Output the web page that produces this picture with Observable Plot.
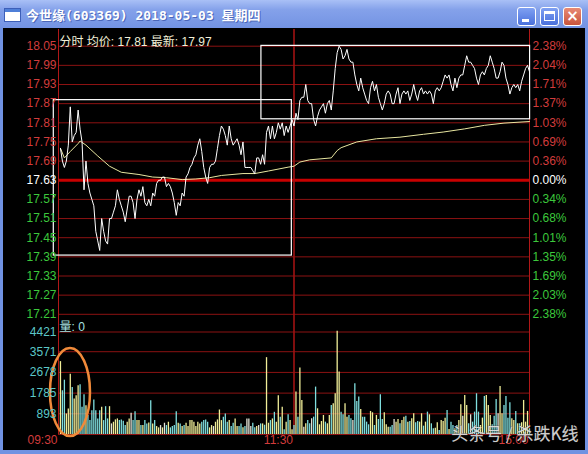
<!DOCTYPE html>
<html><head><meta charset="utf-8">
<script src="https://cdn.jsdelivr.net/npm/d3@7"></script>
<script src="https://cdn.jsdelivr.net/npm/@observablehq/plot@0.6"></script>
<style>
html,body{margin:0;padding:0;background:#6f8ee0;}
#win{position:relative;width:588px;height:454px;overflow:hidden;background:#7092e2;}
#title{position:absolute;left:0;top:0;width:588px;height:28px;background:linear-gradient(to bottom,#a9c0f6 0%,#84a1ea 35%,#7393e3 100%);}
#icon{position:absolute;left:5px;top:9px;width:15px;height:9px;background:#fff;border-top:3px solid #4f7fd8;box-shadow:0 0 0 1px #3d5fb8;}
#ttext{position:absolute;left:26px;top:5px;font:bold 13px "DejaVu Sans Mono","Noto Sans CJK SC",monospace;color:#fff;text-shadow:1px 1px 0 #4a66b8;white-space:pre;}
.btn{position:absolute;top:7px;width:19px;height:19px;box-sizing:border-box;border:1px solid #fff;border-radius:3px;background:linear-gradient(#7fa0f2,#4a70dc);color:#fff;}
#bmin{left:517px}#bmax{left:540px}#bcls{left:563px;background:linear-gradient(#e88a74,#c8543c);}
#bmin i{position:absolute;left:4px;top:11px;width:7px;height:3px;background:#fff;}
#bmax i{position:absolute;left:3px;top:3px;width:11px;height:10px;box-sizing:border-box;border:1px solid #fff;border-top-width:3px;}
#bcls i{position:absolute;left:0;top:-1px;width:17px;text-align:center;font:bold 15px "DejaVu Sans",sans-serif;}
#panel{position:absolute;left:3px;top:28px;width:582px;height:422px;background:#000;}
.chart{position:absolute;left:0;}
.chart svg{overflow:visible;display:block;}
</style></head>
<body>
<div id="win">
  <div id="title"><div id="icon"></div><div id="ttext">今世缘(603369) 2018-05-03 星期四</div>
    <div class="btn" id="bmin"><i></i></div><div class="btn" id="bmax"><i></i></div><div class="btn" id="bcls"><i>×</i></div>
  </div>
  <div id="panel"></div>
  <div class="chart" id="c1" style="top:29px"></div>
  <div class="chart" id="c2" style="top:322px"></div>
</div>
<script>
// ---- data ----
const prevClose = 17.63;
const priceTicks = [18.05,17.99,17.93,17.87,17.81,17.75,17.69,17.63,17.57,17.51,17.45,17.39,17.33,17.27,17.21];
const pctLabels = ["2.38%","2.04%","1.71%","1.37%","1.03%","0.69%","0.36%","0.00%","0.34%","0.68%","1.01%","1.35%","1.69%","2.03%","2.38%"];
const volTicks = [4421,3571,2678,1785,893];
const timeTicks = [0,120,240];
const timeLabels = ["09:30","11:30","15:00"];
const headerText = "分时 均价: 17.81 最新: 17.97";
const volLabel = "量: 0";
const watermark = "头条号 / 杀跌K线";

// minute prices, 9:31 .. 11:30, 13:01 .. 15:00
const priceAM = [17.73,17.69,17.67,17.69,17.74,17.86,17.75,17.77,17.78,17.85,
 17.79,17.75,17.60,17.69,17.62,17.59,17.57,17.55,17.47,17.44,
 17.41,17.51,17.47,17.44,17.43,17.51,17.51,17.53,17.55,17.60,
 17.57,17.55,17.53,17.50,17.54,17.58,17.58,17.56,17.51,17.57,
 17.60,17.58,17.61,17.56,17.55,17.57,17.55,17.59,17.58,17.62,
 17.63,17.63,17.64,17.64,17.61,17.62,17.61,17.59,17.56,17.52,
 17.56,17.55,17.59,17.58,17.64,17.65,17.67,17.68,17.70,17.71,
 17.74,17.76,17.72,17.67,17.64,17.62,17.67,17.68,17.68,17.69,
 17.73,17.77,17.80,17.79,17.77,17.74,17.80,17.76,17.74,17.75,
 17.76,17.74,17.71,17.75,17.67,17.67,17.67,17.67,17.66,17.65,
 17.70,17.70,17.68,17.71,17.68,17.78,17.80,17.76,17.80,17.76,
 17.78,17.81,17.79,17.81,17.77,17.80,17.78,17.80,17.82,17.80];
const pricePM = [17.84,17.82,17.88,17.89,17.89,17.93,17.88,17.87,17.87,17.82,
 17.80,17.83,17.85,17.86,17.87,17.84,17.87,17.88,17.85,17.91,
 17.98,18.03,18.05,18.04,18.01,18.02,18.04,18.01,18.00,18.00,
 17.96,17.93,17.91,17.95,17.92,17.90,17.88,17.87,17.92,17.94,
 17.91,17.93,17.89,17.87,17.85,17.87,17.90,17.91,17.90,17.87,
 17.87,17.90,17.92,17.87,17.90,17.91,17.90,17.91,17.88,17.90,
 17.93,17.90,17.88,17.91,17.92,17.90,17.91,17.90,17.91,17.90,
 17.87,17.91,17.92,17.91,17.92,17.94,17.96,17.95,17.96,17.93,
 17.91,17.95,17.92,17.95,17.96,17.96,17.99,18.02,18.00,18.00,
 17.99,17.98,17.95,17.93,17.96,17.97,17.96,17.98,17.99,18.02,
 18.00,17.98,17.95,17.95,17.97,18.00,17.99,17.95,17.93,17.90,
 17.92,17.93,17.92,17.93,17.91,17.94,17.96,17.98,17.99,17.97];
const price = priceAM.concat(pricePM);

// average-price line, read at these minutes
const avgT = [1,3,6,10,11,14,20,26,32,41,48,55,63,70,77,83,94,100,107,117,120,123,128,139,142,144,152,162,174,186,196,207,217,227,240];
const avgV = [17.73,17.70,17.72,17.745,17.753,17.74,17.706,17.674,17.655,17.648,17.64,17.638,17.632,17.634,17.638,17.645,17.651,17.651,17.659,17.671,17.674,17.687,17.694,17.70,17.723,17.732,17.75,17.76,17.765,17.774,17.781,17.791,17.802,17.809,17.814];

// minute volumes
const volAM = [3144,1886,2343,886,1100,2600,2029,1529,1672,2100,
 2143,1172,1715,1243,815,600,1029,1486,1029,672,
 1029,1172,600,1200,672,1200,457,529,629,672,
 600,629,572,386,529,672,915,600,986,600,
 600,386,386,600,457,500,1457,457,600,343,
 286,386,286,486,386,529,286,343,386,986,
 486,457,343,386,486,343,600,600,529,343,
 529,457,529,600,629,529,286,386,343,529,
 629,1057,600,743,886,529,600,343,486,672,
 343,343,457,286,343,672,672,343,486,286,
 343,386,457,457,400,3315,486,600,672,957,
 529,1672,743,1172,200,529,857,600,200,389];
const volPM = [1829,749,2866,1469,317,461,605,461,677,749,
 2045,1109,418,562,821,533,461,821,1253,1325,
 1757,4450,2693,965,850,1325,749,821,677,605,
 2189,1426,1613,1080,749,749,533,418,994,936,
 389,821,648,1714,648,936,418,317,317,389,
 648,533,648,461,605,749,792,533,562,677,
 893,504,562,533,893,360,533,965,850,461,
 245,274,504,173,605,562,706,1037,216,533,
 389,245,389,605,1282,792,1685,1253,461,850,
 533,965,1757,965,389,706,1642,1685,1253,821,
 418,792,1512,893,2074,893,1253,1642,706,1368,
 677,605,994,461,461,504,1469,533,994,245];
const volume = volAM.concat(volPM);

// annotations (drawn on the screenshot)
const boxT1 = [-2.4, 103.4], boxT2 = [118.9, 240.3];
const boxP1 = [17.881, 18.051], boxP2 = [17.394, 17.821];
const ringT = 6.1, ringV = 1810, ringRT = 10.2, ringRV = 1900;

// ---- styles ----
const RED = "#d23c3c", GREEN = "#3cc83c", CYAN = "#5cc8c8";
const GRID = "#8c1212", AXIS = "#b01818";
const FONT = '"Liberation Sans","Noto Sans CJK SC",Arial,sans-serif';
const tickColor = v => v > prevClose ? RED : v < prevClose ? GREEN : "#ffffff";
const barColor = i => {
  const prev = i === 0 ? prevClose : price[i - 1];
  return price[i] > prev ? "#f0ee98" : price[i] < prev ? "#7fdede" : "#e4e4d8";
};

const c1 = Plot.plot({
  width: 588, height: 293,
  marginLeft: 58, marginRight: 59, marginTop: 0, marginBottom: 0,
  x: {domain: [0, 240], axis: null},
  y: {domain: [17.21, 18.05], range: [284.8, 16.7], axis: null},
  style: {background: "transparent", fontFamily: FONT, overflow: "visible"},
  marks: [
    Plot.ruleY(priceTicks.filter(v => v !== prevClose), {stroke: GRID}),
    Plot.ruleY([prevClose], {stroke: "#c80000", strokeWidth: 3}),
    Plot.ruleX([timeTicks[0], timeTicks[2]], {stroke: AXIS}),
    Plot.ruleX([timeTicks[1]], {stroke: "#a01212", strokeWidth: 1.6}),
    Plot.line(avgV, {x: (d, i) => avgT[i], y: d => d, stroke: "#e8e6a0", strokeWidth: 1}),
    Plot.line(price, {x: (d, i) => i + 1, y: d => d, stroke: "#ffffff", strokeWidth: 1}),
    Plot.rect(boxT1, {x1: d => d, x2: (d, i) => boxT2[i], y1: (d, i) => boxP1[i], y2: (d, i) => boxP2[i],
      fill: "none", stroke: "#ffffff", strokeWidth: 1.2}),
    Plot.text(priceTicks, {frameAnchor: "left", y: d => d, text: d => d.toFixed(2),
      textAnchor: "end", dx: -2, fill: tickColor, fontSize: 12}),
    Plot.text(pctLabels, {frameAnchor: "right", y: (d, i) => priceTicks[i], text: d => d,
      textAnchor: "start", dx: 3, fill: (d, i) => tickColor(priceTicks[i]), fontSize: 12}),
    Plot.text([headerText], {frameAnchor: "top-left", text: d => d, textAnchor: "start",
      dx: 1, dy: 8, fill: "#f2f0d8", fontSize: 12})
  ]
});
document.getElementById("c1").append(c1);

const ringMark = (index, scales) => {
  const sx = scales.x, sy = scales.y;
  const g = d3.create("svg:g");
  if (!sx || !sy) return g.node();
  const cx = sx(ringT), cy = sy(ringV);
  g.append("ellipse")
    .attr("cx", cx).attr("cy", cy)
    .attr("rx", Math.abs(sx(ringT + ringRT) - cx))
    .attr("ry", Math.abs(sy(ringV + ringRV) - cy))
    .attr("fill", "none").attr("stroke", "#f08a3a").attr("stroke-width", 2.5);
  return g.node();
};

const c2 = Plot.plot({
  width: 588, height: 128,
  marginLeft: 58, marginRight: 59, marginTop: 0, marginBottom: 16,
  x: {domain: [0, 240], axis: null},
  y: {domain: [0, 4421], range: [112, 9.5], axis: null},
  style: {background: "transparent", fontFamily: FONT, overflow: "visible"},
  marks: [
    Plot.ruleY([0, ...volTicks], {stroke: GRID}),
    Plot.ruleX([timeTicks[0], timeTicks[2]], {stroke: AXIS}),
    Plot.ruleX([timeTicks[1]], {stroke: "#a01212", strokeWidth: 1.6}),
    Plot.ruleX(volume, {x: (d, i) => i + 1, y1: 0, y2: d => d, stroke: (d, i) => barColor(i), strokeWidth: 1.3}),
    ringMark,
    Plot.text(volTicks, {frameAnchor: "left", y: d => d, text: d => String(d),
      textAnchor: "end", dx: -2, fill: CYAN, fontSize: 12}),
    Plot.text([volLabel], {frameAnchor: "top-left", text: d => d, textAnchor: "start",
      dx: 1, dy: 0, fill: "#a6e2e2", fontSize: 12}),
    Plot.text(timeLabels, {x: (d, i) => timeTicks[i], frameAnchor: "bottom", text: d => d,
      textAnchor: "end", dx: -1, dy: 9, fill: RED, fontSize: 12}),
    Plot.text([watermark], {frameAnchor: "bottom-right", text: d => d, textAnchor: "end",
      dx: 49, dy: 5, fill: "#e2e2e2", fillOpacity: 0.92, stroke: "#444", strokeWidth: 0.4,
      fontSize: 17, fontFamily: '"Noto Sans CJK SC","Liberation Sans",sans-serif'})
  ]
});
document.getElementById("c2").append(c2);
</script>
</body></html>
